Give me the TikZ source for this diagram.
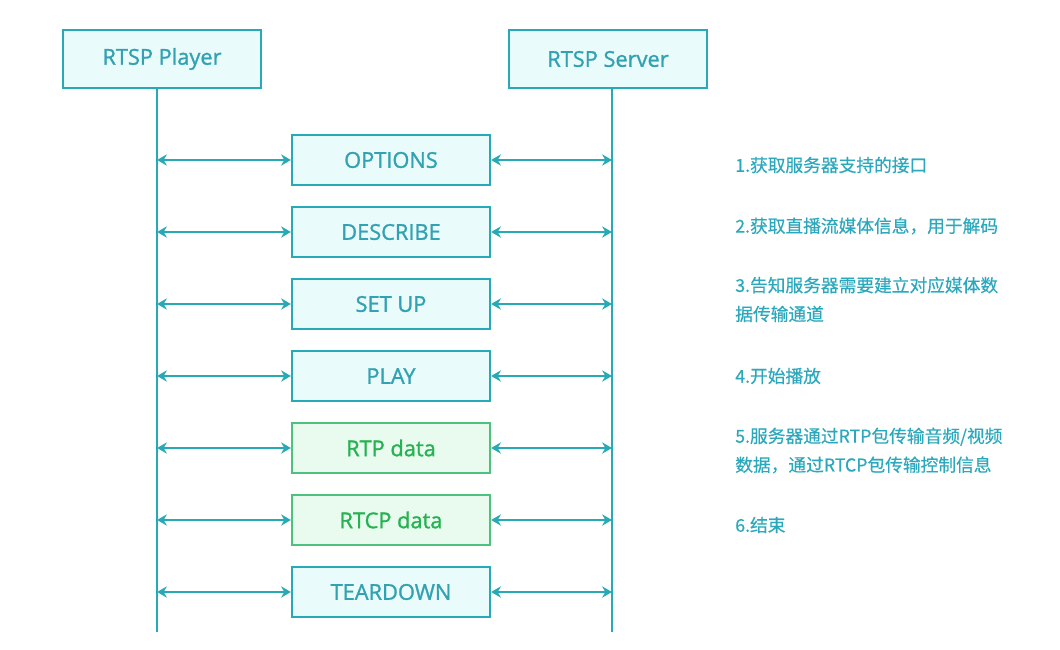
\documentclass[tikz,border=0pt]{standalone}
\usepackage{fontspec}
\setmainfont{Open Sans}
\newfontfamily\boxfont[FakeBold=1.2]{Open Sans}
\newfontfamily\cjk[FakeBold=0.5]{Noto Sans CJK SC}
\usepackage{tikz}
\usetikzlibrary{positioning,arrows.meta}
\definecolor{tealline}{RGB}{40,170,182}
\definecolor{tealtext}{RGB}{50,162,178}
\definecolor{tealfill}{RGB}{234,251,252}
\definecolor{greenline}{RGB}{78,194,124}
\definecolor{greenfill}{RGB}{233,250,238}
\definecolor{greentext}{RGB}{38,178,82}
\definecolor{notetext}{RGB}{44,168,188}
\tikzset{actor/.style={draw=tealline,line width=1.5pt,fill=tealfill,text=tealtext,
                       minimum width=4.95cm,minimum height=1.45cm,font=\boxfont\fontsize{15.5}{18}\selectfont}}
\tikzset{msgbox/.style={draw=tealline,line width=1.5pt,fill=tealfill,text=tealtext,
                        minimum width=4.95cm,minimum height=1.25cm,font=\boxfont\fontsize{15.5}{18}\selectfont}}
\tikzset{databox/.style={msgbox,draw=greenline,fill=greenfill,text=greentext}}
\tikzset{lifeline/.style={draw=tealline,line width=1.5pt}}
\tikzset{msg/.style={draw=tealline,line width=1.5pt,{Stealth[length=7pt,width=8pt]}-{Stealth[length=7pt,width=8pt]}}}
\tikzset{note/.style={anchor=west,align=left,text=notetext,inner sep=0pt,
                      font=\cjk\fontsize{12.6}{20.5}\selectfont}}

\begin{document}
\begin{tikzpicture}[x=0.025cm,y=-0.025cm]
    \useasboundingbox (0,0) rectangle (1060,650);

    % actors
    \node[actor] (player) at (162,59) {RTSP Player};
    \node[actor] (server) at (608,59) {RTSP Server};
    \coordinate (pb) at (157,632);
    \coordinate (sb) at (612,632);
    \draw[lifeline] (pb |- player.south) -- (pb);
    \draw[lifeline] (sb |- server.south) -- (sb);

    % messages
    \node[msgbox]  (options)  at (391,160) {OPTIONS};
    \node[msgbox]  (describe) at (391,232) {DESCRIBE};
    \node[msgbox]  (setup)    at (391,304) {SET UP};
    \node[msgbox]  (play)     at (391,376) {PLAY};
    \node[databox] (rtp)      at (391,448) {RTP data};
    \node[databox] (rtcp)     at (391,520) {RTCP data};
    \node[msgbox]  (teardown) at (391,592) {TEARDOWN};

    \draw[msg] (pb |- options.west) -- (options.west);
    \draw[msg] (options.east) -- (sb |- options.east);
    \draw[msg] (pb |- describe.west) -- (describe.west);
    \draw[msg] (describe.east) -- (sb |- describe.east);
    \draw[msg] (pb |- setup.west) -- (setup.west);
    \draw[msg] (setup.east) -- (sb |- setup.east);
    \draw[msg] (pb |- play.west) -- (play.west);
    \draw[msg] (play.east) -- (sb |- play.east);
    \draw[msg] (pb |- rtp.west) -- (rtp.west);
    \draw[msg] (rtp.east) -- (sb |- rtp.east);
    \draw[msg] (pb |- rtcp.west) -- (rtcp.west);
    \draw[msg] (rtcp.east) -- (sb |- rtcp.east);
    \draw[msg] (pb |- teardown.west) -- (teardown.west);
    \draw[msg] (teardown.east) -- (sb |- teardown.east);

    % notes
    \node[note] (n1) at (735,165) {1.获取服务器支持的接口};
    \node[note] (n2) at (735,226) {2.获取直播流媒体信息，用于解码};
    \node[note] (n3) at (735,299.5) {3.告知服务器需要建立对应媒体数\\据传输通道};
    \node[note] (n4) at (735,376) {4.开始播放};
    \node[note] (n5) at (735,450.5) {5.服务器通过RTP包传输音频/视频\\数据，通过RTCP包传输控制信息};
    \node[note] (n6) at (735,525) {6.结束};
\end{tikzpicture}
\end{document}
